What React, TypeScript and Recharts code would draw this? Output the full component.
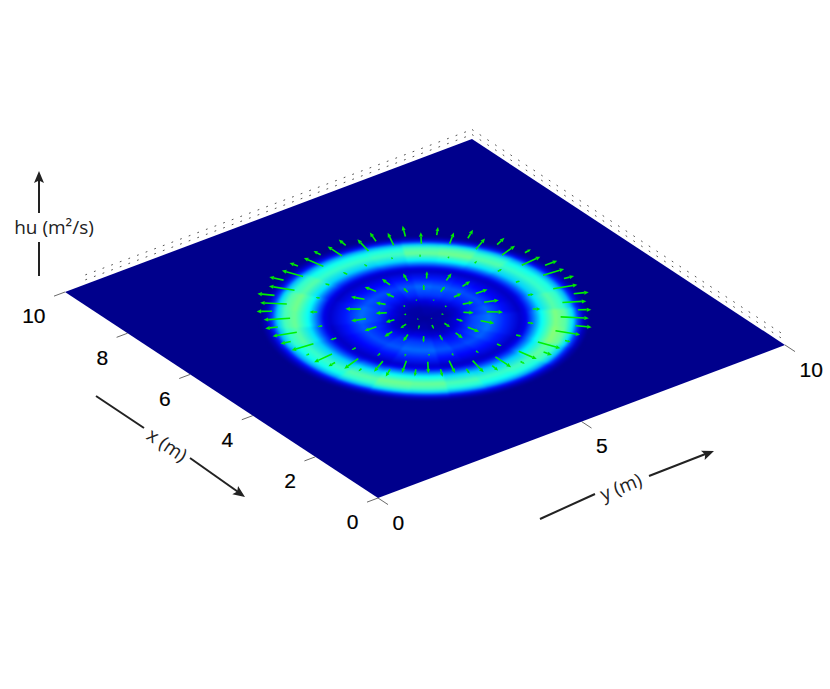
import React from "react";
import { ScatterChart, Scatter, XAxis, YAxis, ReferenceLine } from "recharts";

const WIDTH = 830;
const HEIGHT = 689;

// ---- data ----------------------------------------------------------------
const xTicks = [0, 2, 4, 6, 8, 10];
const yTicks = [0, 5, 10];
const domainMax = 10;
const ringCentre = [5, 5];

// radial knots (m) and normalised hu for 24 sectors of 15 degrees
const radialKnots = [0, 0.42, 0.68, 0.92, 1.25, 1.55, 1.85, 1.97, 2.08, 2.27, 2.54, 2.74, 2.88, 2.98, 3.08, 3.2];
const huSectors = [
  [0.02, 0.03, 0.07, 0.14, 0.19, 0.13, 0.06, 0.09, 0.18, 0.33, 0.43, 0.39, 0.29, 0.14, 0.05, 0],
  [0.02, 0.03, 0.08, 0.16, 0.21, 0.14, 0.06, 0.09, 0.19, 0.34, 0.44, 0.40, 0.30, 0.15, 0.05, 0],
  [0.02, 0.04, 0.09, 0.18, 0.23, 0.15, 0.06, 0.10, 0.20, 0.36, 0.48, 0.44, 0.33, 0.17, 0.06, 0],
  [0.02, 0.04, 0.10, 0.18, 0.22, 0.15, 0.06, 0.10, 0.20, 0.37, 0.49, 0.45, 0.34, 0.17, 0.06, 0],
  [0.02, 0.04, 0.09, 0.17, 0.21, 0.14, 0.06, 0.10, 0.19, 0.35, 0.46, 0.42, 0.31, 0.15, 0.05, 0],
  [0.02, 0.03, 0.08, 0.15, 0.20, 0.13, 0.06, 0.09, 0.18, 0.33, 0.43, 0.39, 0.29, 0.14, 0.05, 0],
  [0.02, 0.03, 0.07, 0.15, 0.20, 0.13, 0.06, 0.09, 0.18, 0.33, 0.43, 0.40, 0.29, 0.14, 0.05, 0],
  [0.02, 0.03, 0.08, 0.16, 0.22, 0.14, 0.06, 0.10, 0.19, 0.35, 0.46, 0.42, 0.31, 0.15, 0.05, 0],
  [0.02, 0.04, 0.10, 0.19, 0.24, 0.16, 0.07, 0.10, 0.21, 0.38, 0.50, 0.46, 0.35, 0.18, 0.06, 0],
  [0.02, 0.04, 0.10, 0.19, 0.24, 0.16, 0.07, 0.10, 0.21, 0.38, 0.51, 0.47, 0.35, 0.18, 0.06, 0],
  [0.02, 0.03, 0.09, 0.17, 0.22, 0.15, 0.06, 0.10, 0.20, 0.36, 0.47, 0.43, 0.32, 0.16, 0.05, 0],
  [0.02, 0.03, 0.08, 0.15, 0.20, 0.14, 0.06, 0.09, 0.18, 0.33, 0.44, 0.40, 0.29, 0.14, 0.05, 0],
  [0.02, 0.03, 0.07, 0.14, 0.19, 0.13, 0.06, 0.09, 0.18, 0.33, 0.43, 0.39, 0.29, 0.14, 0.05, 0],
  [0.02, 0.03, 0.08, 0.16, 0.21, 0.14, 0.06, 0.09, 0.19, 0.34, 0.45, 0.41, 0.30, 0.15, 0.05, 0],
  [0.02, 0.04, 0.09, 0.18, 0.23, 0.16, 0.07, 0.11, 0.22, 0.38, 0.48, 0.44, 0.33, 0.17, 0.06, 0],
  [0.02, 0.04, 0.10, 0.18, 0.23, 0.16, 0.07, 0.11, 0.22, 0.38, 0.49, 0.45, 0.34, 0.17, 0.06, 0],
  [0.02, 0.03, 0.09, 0.17, 0.21, 0.14, 0.06, 0.10, 0.20, 0.35, 0.46, 0.42, 0.31, 0.15, 0.05, 0],
  [0.02, 0.03, 0.08, 0.15, 0.20, 0.13, 0.06, 0.09, 0.18, 0.33, 0.43, 0.39, 0.29, 0.14, 0.05, 0],
  [0.02, 0.03, 0.07, 0.15, 0.20, 0.13, 0.06, 0.09, 0.18, 0.33, 0.43, 0.39, 0.29, 0.14, 0.05, 0],
  [0.02, 0.03, 0.08, 0.16, 0.21, 0.14, 0.06, 0.10, 0.19, 0.35, 0.46, 0.42, 0.31, 0.15, 0.05, 0],
  [0.02, 0.04, 0.09, 0.18, 0.23, 0.15, 0.07, 0.10, 0.21, 0.38, 0.48, 0.44, 0.33, 0.17, 0.06, 0],
  [0.02, 0.04, 0.10, 0.18, 0.23, 0.15, 0.07, 0.10, 0.21, 0.38, 0.49, 0.45, 0.34, 0.17, 0.06, 0],
  [0.02, 0.03, 0.09, 0.17, 0.21, 0.14, 0.06, 0.10, 0.19, 0.35, 0.46, 0.42, 0.31, 0.15, 0.05, 0],
  [0.02, 0.03, 0.08, 0.15, 0.20, 0.13, 0.06, 0.09, 0.18, 0.33, 0.43, 0.39, 0.29, 0.14, 0.05, 0],
];

// velocity arrows: bearing (deg), tail radius (m), length (m)
const arrowsOuterA = [
  [0, 2.65, 0.46], [12, 2.55, 0.5], [24, 2.6, 0.5], [36, 2.6, 0.45], [48, 2.65, 0.45], [60, 2.6, 0.46],
  [72, 2.65, 0.45], [84, 2.6, 0.5], [96, 2.7, 0.48], [108, 2.65, 0.5], [120, 2.7, 0.47], [132, 2.65, 0.55],
  [144, 2.65, 0.5], [156, 2.5, 0.5], [168, 2.4, 0.46], [180, 2.25, 0.5], [192, 2.15, 0.5], [204, 2.0, 0.5],
  [216, 2.0, 0.46], [228, 2.0, 0.48], [240, 2.15, 0.45], [252, 2.3, 0.48], [264, 2.5, 0.48], [276, 2.55, 0.5],
  [288, 2.65, 0.5], [300, 2.65, 0.52], [312, 2.7, 0.52], [324, 2.65, 0.52], [336, 2.7, 0.47], [348, 2.6, 0.5],
];
const arrowsOuterB = [
  [6, 2.95, 0.26], [18, 2.85, 0.36], [30, 2.9, 0.42], [42, 2.95, 0.32], [54, 2.95, 0.35], [66, 2.95, 0.3],
  [78, 3.0, 0.18], [90, 2.95, 0.3], [102, 3.0, 0.22], [114, 2.98, 0.3], [126, 2.98, 0.26], [138, 2.98, 0.32],
  [150, 2.95, 0.12], [162, 2.8, 0.2], [174, 2.7, 0.12], [186, 2.5, 0.22], [198, 2.4, 0.2], [210, 2.3, 0.3],
  [222, 2.3, 0.28], [234, 2.4, 0.3], [246, 2.6, 0.12], [258, 2.7, 0.2], [270, 2.85, 0.08], [282, 2.9, 0.22],
  [294, 2.95, 0.25], [306, 2.98, 0.3], [318, 2.98, 0.34], [330, 2.98, 0.3], [342, 3.0, 0.2], [354, 2.95, 0.2],
];
const arrowsGap = [
  [4, 2.05, 0.1], [20, 2.1, 0.08], [35, 2.1, 0.1], [50, 2.1, 0.08], [65, 2.1, 0.1], [80, 2.1, 0.12], [95, 2.1, 0.1],
  [110, 2.1, 0.12], [125, 2.1, 0.15], [140, 2.05, 0.12], [155, 2.0, 0.12], [170, 1.9, 0.12], [185, 1.85, 0.1],
  [200, 1.75, 0.1], [215, 1.7, 0.08], [230, 1.75, 0.1], [245, 1.9, 0.12], [260, 2.0, 0.12], [275, 2.05, 0.14],
  [290, 2.1, 0.1], [305, 2.1, 0.15], [320, 2.1, 0.08], [335, 2.1, 0.1], [350, 2.05, 0.12],
];
const arrowsInnerA = [
  [3, 1.2, 0.28], [21, 1.2, 0.3], [39, 1.25, 0.28], [57, 1.25, 0.3], [75, 1.2, 0.25], [93, 1.2, 0.28], [111, 1.2, 0.3],
  [129, 1.2, 0.32], [147, 1.15, 0.28], [165, 1.05, 0.28], [183, 1.05, 0.25], [201, 1.0, 0.22], [219, 1.0, 0.25],
  [237, 1.0, 0.28], [255, 1.05, 0.25], [273, 1.15, 0.28], [291, 1.2, 0.3], [309, 1.25, 0.3], [327, 1.25, 0.28], [345, 1.2, 0.28],
];
const arrowsInnerB = [
  [12, 0.78, 0.2], [36, 0.8, 0.22], [60, 0.8, 0.22], [84, 0.78, 0.2], [108, 0.78, 0.22], [132, 0.75, 0.2],
  [156, 0.7, 0.15], [180, 0.62, 0.18], [204, 0.58, 0.16], [228, 0.6, 0.15], [252, 0.65, 0.2], [276, 0.7, 0.2],
  [300, 0.75, 0.22], [324, 0.8, 0.2], [348, 0.8, 0.2],
];
const arrowsCore = [
  [15, 0.42, 0.05], [60, 0.42, 0.06], [105, 0.42, 0.05], [150, 0.35, 0.05], [195, 0.32, 0.04], [240, 0.35, 0.05], [285, 0.4, 0.05], [330, 0.42, 0.05],
];

const xLabelLines = [[96, 396, 144, 428], [190, 458, 241, 494]];
const yLabelLines = [[540, 519, 595, 494], [649, 476, 708, 453]];
const huLabelLines = [[39, 276, 39, 242], [39, 213, 39, 180]];
const arrowTips = [
  { sx: 245, sy: 497, angle: 35 },
  { sx: 714, sy: 451, angle: -21.5 },
  { sx: 39, sy: 171, angle: -90 },
];
const axisTitles = [
  { sx: 167, sy: 445, text: "x (m)", angle: 34 },
  { sx: 621, sy: 487, text: "y (m)", angle: -22 },
  { sx: 54, sy: 227, text: "hu (m²/s)", angle: 0 },
];

// ---- projection of the 3-D axes box onto the chart's own numeric axes ------
const ex = { x: -31.3, y: -20.6 };
const ey = { x: 40.7, y: -15.3 };
const origin = { x: 378, y: 498 };
const project = (x: number, y: number) => ({
  sx: origin.x + ex.x * x + ey.x * y,
  sy: origin.y + ex.y * x + ey.y * y,
});

const jet = (v: number) => {
  const clamp = (a: number) => Math.max(0, Math.min(1, a));
  const r = clamp((v - 0.375) * 4);
  const g = clamp((v - 0.125) * 4) - clamp((v - 0.625) * 4);
  const b = v < 0.125 ? 0.55 + (0.45 * v) / 0.125 : 1 - clamp((v - 0.375) * 4);
  return `rgb(${Math.round(r * 255)},${Math.round(g * 255)},${Math.round(b * 255)})`;
};
const NAVY = jet(0);

const rad = (d: number) => (d * Math.PI) / 180;
const polar = (theta: number, r: number) =>
  project(ringCentre[0] + r * Math.cos(rad(theta)), ringCentre[1] + r * Math.sin(rad(theta)));

// ---- chart rows built from the arrays -------------------------------------
const planeRows = [project(ringCentre[0], ringCentre[1])];
const sectorRows = huSectors.map((values, k) => ({ ...project(ringCentre[0], ringCentre[1]), k, values }));
const arrowRows = [arrowsOuterA, arrowsOuterB, arrowsGap, arrowsInnerA, arrowsInnerB, arrowsCore]
  .flat()
  .map(([theta, r, len]) => ({ ...polar(theta, r), tip: polar(theta, r + len) }));
const xTickRows = xTicks.map((v) => ({ ...project(v, 0), text: String(v) }));
const yTickRows = yTicks.map((v) => ({ ...project(0, v), text: String(v) }));

const PlaneShape = () => {
  const c = [project(0, 0), project(domainMax, 0), project(domainMax, domainMax), project(0, domainMax)];
  return <polygon points={c.map((p) => `${p.sx},${p.sy}`).join(" ")} fill={NAVY} />;
};

const SectorShape = (props: any) => {
  const { k, values, sx, sy } = props.payload;
  const rMax = radialKnots[radialKnots.length - 1];
  const id = `sector-${k}`;
  const step = 360 / huSectors.length;
  const pts = [`${sx},${sy}`];
  const overlap = 1.5;
  for (let i = 0; i <= 6; i++) {
    const t = k * step - overlap + (i * (step + 2 * overlap)) / 6;
    const p = polar(t, rMax + 0.02);
    pts.push(`${p.sx},${p.sy}`);
  }
  return (
    <g>
      <defs>
        <radialGradient
          id={id}
          gradientUnits="userSpaceOnUse"
          cx={0}
          cy={0}
          r={rMax}
          gradientTransform={`matrix(${ex.x} ${ex.y} ${ey.x} ${ey.y} ${sx} ${sy})`}
        >
          {radialKnots.map((r: number, i: number) => (
            <stop key={i} offset={r / rMax} stopColor={jet(values[i])} />
          ))}
        </radialGradient>
      </defs>
      <polygon points={pts.join(" ")} fill={`url(#${id})`} />
    </g>
  );
};

const ArrowShape = (props: any) => {
  const { sx, sy, tip } = props.payload;
  const lift = 8;
  const dx = tip.sx - sx;
  const dy = tip.sy - sy;
  const L = Math.hypot(dx, dy) || 1;
  const ux = dx / L;
  const uy = dy / L;
  const h = Math.min(4.5, L * 0.5);
  const w = h * 0.45;
  const bx = tip.sx - ux * h;
  const by = tip.sy - uy * h - lift;
  const tx = tip.sx;
  const ty = tip.sy - lift;
  return (
    <g>
      <line x1={sx} y1={sy - lift} x2={bx} y2={by} stroke="#00f000" strokeWidth={1.6} />
      <polygon
        points={`${tx},${ty} ${bx - uy * w},${by + ux * w} ${bx + uy * w},${by - ux * w}`}
        fill="#00ea00"
      />
    </g>
  );
};

const XTickLabel = (props: any) => {
  const { sx, sy, text } = props.payload;
  return (
    <text x={sx - 19.5} y={sy + 24} dy="0.35em" textAnchor="end" fontFamily="'Liberation Sans', Arial, sans-serif" fontSize={21} fill="#000" stroke="#000" strokeWidth={0.2}>
      {text}
    </text>
  );
};
const YTickLabel = (props: any) => {
  const { sx, sy, text } = props.payload;
  return (
    <text x={sx + 14.5} y={sy + 24.5} dy="0.35em" textAnchor="start" fontFamily="'Liberation Sans', Arial, sans-serif" fontSize={21} fill="#000" stroke="#000" strokeWidth={0.2}>
      {text}
    </text>
  );
};
const TitleShape = (props: any) => {
  const { sx, sy, text, angle } = props.payload;
  return (
    <text
      x={sx}
      y={sy}
      dy="0.35em"
      textAnchor="middle"
      transform={`rotate(${angle} ${sx} ${sy})`}
      fontFamily="'Open Sans', sans-serif"
      fontSize={19}
      fill="#222"
    >
      {text}
    </text>
  );
};
const HeadShape = (props: any) => {
  const { sx, sy, angle } = props.payload;
  return <polygon points="0,0 -12,-5 -9.5,0 -12,5" fill="#222" transform={`translate(${sx} ${sy}) rotate(${angle})`} />;
};

const seg = (a: { sx: number; sy: number }, b: { sx: number; sy: number }, dx = 0, dy = 0) =>
  [
    { x: a.sx + dx, y: a.sy + dy },
    { x: b.sx + dx, y: b.sy + dy },
  ] as any;

const px = (x: number, y: number) => ({ sx: x, sy: y });

export default function App() {
  const apex = project(domainMax, domainMax);
  const left = project(domainMax, 0.5);
  const right = project(0, domainMax);
  return (
    <div style={{ position: "absolute", left: 0, top: 0, width: WIDTH, height: HEIGHT }}>
      <style>{`.hu-ring{filter:blur(0.9px)}`}</style>
      <ScatterChart width={WIDTH} height={HEIGHT} margin={{ top: 0, right: 0, bottom: 0, left: 0 }}>
        <XAxis type="number" dataKey="sx" domain={[0, WIDTH]} hide allowDataOverflow />
        <YAxis type="number" dataKey="sy" domain={[0, HEIGHT]} reversed hide allowDataOverflow />

        {[4.5, 9.5].map((lift) => (
          <ReferenceLine key={`a${lift}`} segment={seg(left, apex, 0, -lift)} stroke="#555" strokeWidth={1} strokeDasharray="1.8 7.4" ifOverflow="visible" />
        ))}
        {[4.5, 9.5].map((lift) => (
          <ReferenceLine key={`b${lift}`} segment={seg(apex, right, 0, -lift)} stroke="#555" strokeWidth={1} strokeDasharray="1.8 7.4" ifOverflow="visible" />
        ))}

        {xTicks.map((v) => (
          <ReferenceLine key={`xt${v}`} segment={seg(project(v, 0), project(v, -0.27))} stroke="#444" strokeWidth={0.8} ifOverflow="visible" />
        ))}
        {yTicks.map((v) => (
          <ReferenceLine key={`yt${v}`} segment={seg(project(0, v), project(-0.32, v))} stroke="#444" strokeWidth={0.8} ifOverflow="visible" />
        ))}

        {xLabelLines.concat(yLabelLines, huLabelLines).map((l, i) => (
          <ReferenceLine key={`ll${i}`} segment={seg(px(l[0], l[1]), px(l[2], l[3]))} stroke="#222" strokeWidth={2} ifOverflow="visible" />
        ))}

        <Scatter data={planeRows} shape={PlaneShape} isAnimationActive={false} />
        <Scatter data={sectorRows} shape={SectorShape} className="hu-ring" isAnimationActive={false} />
        <Scatter data={arrowRows} shape={ArrowShape} isAnimationActive={false} />
        <Scatter data={xTickRows} shape={XTickLabel} isAnimationActive={false} />
        <Scatter data={yTickRows} shape={YTickLabel} isAnimationActive={false} />
        <Scatter data={axisTitles} shape={TitleShape} isAnimationActive={false} />
        <Scatter data={arrowTips} shape={HeadShape} isAnimationActive={false} />
      </ScatterChart>
    </div>
  );
}
